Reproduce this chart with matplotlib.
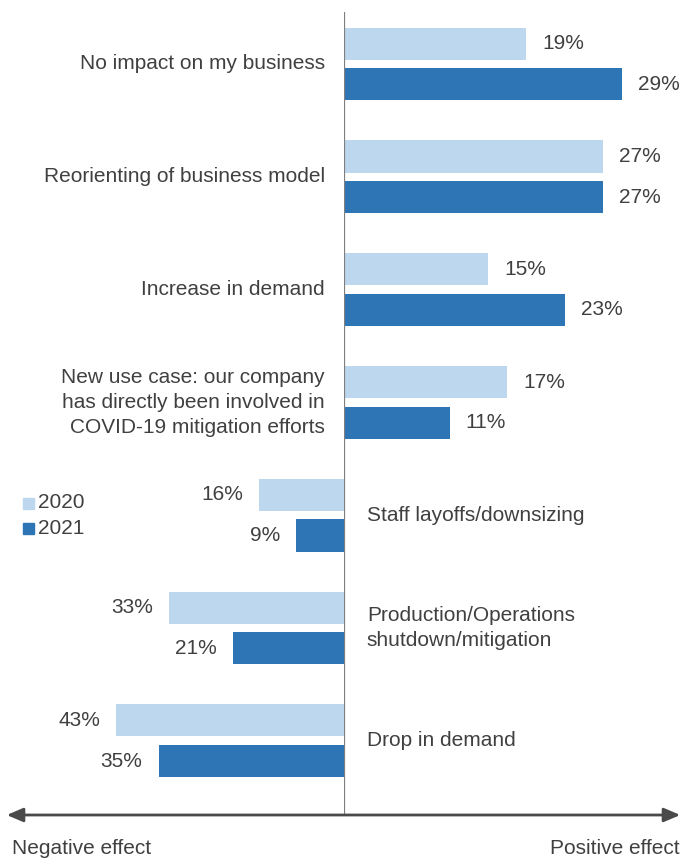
import matplotlib
matplotlib.use("Agg")
import matplotlib.pyplot as plt
import matplotlib.patches as mpatches

plt.rcParams['font.family'] = ['Liberation Sans', 'DejaVu Sans']

# Positive effects (top block) and negative effects (bottom block), shares in %
pos_labels = ["No impact on my business",
              "Reorienting of business model",
              "Increase in demand",
              "New use case: our company\nhas directly been involved in\nCOVID-19 mitigation efforts"]
pos_2020 = [19, 27, 15, 17]
pos_2021 = [29, 27, 23, 11]

neg_labels = ["Staff layoffs/downsizing",
              "Production/Operations\nshutdown/mitigation",
              "Drop in demand"]
neg_2020 = [16, 33, 43]
neg_2021 = [9, 21, 35]

years = ["2020", "2021"]
light = "#BDD7EE"
dark = "#2E75B6"
txt = "#404040"
fs = 15

W, H = 684, 858
fig = plt.figure(figsize=(W / 100, H / 100), dpi=100)

y_top, y_bot, x_zero = 12, 815, 344
bottom = 1 - y_bot / H
height = (y_bot - y_top) / H
ax_neg = fig.add_axes([0, bottom, x_zero / W, height])
ax_pos = fig.add_axes([x_zero / W, bottom, 1 - x_zero / W, height], sharey=ax_neg)

ax_neg.set_xlim(-x_zero / 5.3, 0)
ax_pos.set_xlim(0, (W - x_zero) / 9.6)
ax_neg.set_ylim(6.658, -0.461)

bh = 0.284
off = 0.18

# upper block: bars to the right
for i, (lab, a, b) in enumerate(zip(pos_labels, pos_2020, pos_2021)):
    ax_pos.barh(i - off, a, height=bh, color=light)
    ax_pos.barh(i + off, b, height=bh, color=dark)
    for y, v in ((i - off, a), (i + off, b)):
        ax_pos.annotate(f"{v}%", (v, y), xytext=(11.5, 0), textcoords="offset points",
                        ha="left", va="center", fontsize=fs, color=txt)
    ax_pos.annotate(lab, (0, i), xytext=(-13.7, 0), textcoords="offset points",
                    ha="right", va="center", fontsize=fs, color=txt, linespacing=1.4,
                    annotation_clip=False)

# lower block: bars to the left
n0 = len(pos_labels)
for j, (lab, a, b) in enumerate(zip(neg_labels, neg_2020, neg_2021)):
    i = n0 + j
    ax_neg.barh(i - off, -a, height=bh, color=light)
    ax_neg.barh(i + off, -b, height=bh, color=dark)
    for y, v in ((i - off, a), (i + off, b)):
        ax_neg.annotate(f"{v}%", (-v, y), xytext=(-11.5, 0), textcoords="offset points",
                        ha="right", va="center", fontsize=fs, color=txt)
    ax_pos.annotate(lab, (0, i), xytext=(16.5, 0), textcoords="offset points",
                    ha="left", va="center", fontsize=fs, color=txt, linespacing=1.4,
                    annotation_clip=False)

for ax in (ax_neg, ax_pos):
    ax.axis("off")
ax_pos.axvline(0, color="#7F7F7F", lw=1.6)

# effect axis with arrows on both ends
fig.patches.append(mpatches.FancyArrowPatch(
    (4 / W, 1 - y_bot / H), (683 / W, 1 - y_bot / H), transform=fig.transFigure,
    arrowstyle="<|-|>,head_length=0.7,head_width=0.3", mutation_scale=14,
    color="#4A4A4A", lw=2))

fig.text(12 / W, 1 - 848 / H, "Negative effect", ha="left", va="center", fontsize=fs, color=txt)
fig.text(680 / W, 1 - 848 / H, "Positive effect", ha="right", va="center", fontsize=fs, color=txt)

# legend: small squares with the year next to them
for k, (yr, col) in enumerate(zip(years, (light, dark))):
    yc = 503 + 25 * k
    fig.patches.append(mpatches.Rectangle((23 / W, 1 - (yc + 5.5) / H), 11 / W, 11 / H,
                                          transform=fig.transFigure, color=col))
    fig.text(38 / W, 1 - yc / H, yr, ha="left", va="center", fontsize=fs, color=txt)

fig.savefig("out.png", dpi=100)
